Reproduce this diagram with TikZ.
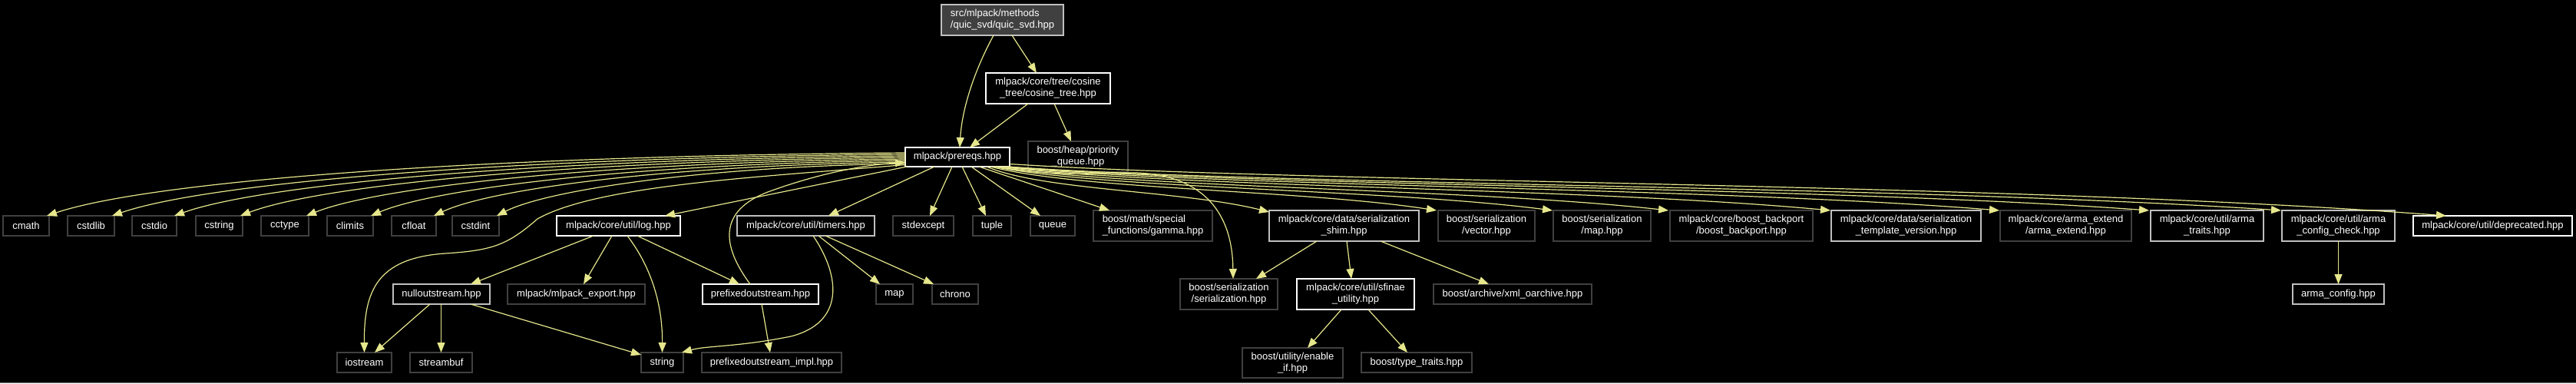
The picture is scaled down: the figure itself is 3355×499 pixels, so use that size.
\documentclass[tikz,border=0pt]{standalone}
\usepackage{fontspec}
\setmainfont{Liberation Sans}
\usetikzlibrary{arrows.meta}
\definecolor{edgec}{RGB}{230,230,140}
\definecolor{lgray}{RGB}{191,191,191}
\definecolor{dgray}{RGB}{64,64,64}
\definecolor{rootfill}{RGB}{64,64,64}
\tikzset{
 nd/.style={rectangle, inner sep=0pt, outer sep=0pt, line width=1.3pt, text=white, fill=black, font=\fontsize{13}{15}\selectfont, align=center},
 wb/.style={nd, draw=white},
 lb/.style={nd, draw=lgray},
 db/.style={nd, draw=dgray},
 ed/.style={draw=edgec, line width=1.2pt, -{Triangle[length=13pt,width=10pt]}},
}
\begin{document}
\begin{tikzpicture}[x=1pt,y=-1pt]
\fill[black] (0,0) rectangle (3355,499);
\useasboundingbox (0,0) rectangle (3355,499);
\draw[gray, line width=1pt] (0,498.5) -- (3355,498.5);
% nodes
\node[lb, fill=rootfill, align=left, minimum width=159pt, minimum height=40pt] (root) at (1305.5,26) {src/mlpack/methods\\/quic\_svd/quic\_svd.hpp};
\node[wb, minimum width=162pt, minimum height=40pt] (cosine) at (1365,115) {mlpack/core/tree/cosine\\\_tree/cosine\_tree.hpp};
\node[wb, minimum width=136pt, minimum height=25pt] (prereqs) at (1247,204.5) {mlpack/prereqs.hpp};
\node[db, minimum width=130pt, minimum height=40pt] (pq) at (1404,204) {boost/heap/priority\\\_queue.hpp};
\node[db, minimum width=60pt, minimum height=26pt] (cmath) at (34,294) {cmath};
\node[db, minimum width=61pt, minimum height=26pt] (cstdlib) at (118.5,294) {cstdlib};
\node[db, minimum width=58pt, minimum height=26pt] (cstdio) at (201,294) {cstdio};
\node[db, minimum width=61pt, minimum height=26pt] (cstring) at (285.5,294) {cstring};
\node[db, minimum width=62pt, minimum height=26pt] (cctype) at (371,294) {cctype};
\node[db, minimum width=60pt, minimum height=26pt] (climits) at (456,294) {climits};
\node[db, minimum width=58pt, minimum height=26pt] (cfloat) at (539,294) {cfloat};
\node[db, minimum width=61pt, minimum height=26pt] (cstdint) at (619.5,294) {cstdint};
\node[wb, minimum width=161pt, minimum height=26pt] (log) at (805.5,294) {mlpack/core/util/log.hpp};
\node[lb, minimum width=179pt, minimum height=26pt] (timers) at (1049.5,294) {mlpack/core/util/timers.hpp};
\node[db, minimum width=79pt, minimum height=26pt] (stdexcept) at (1202.5,294) {stdexcept};
\node[db, minimum width=50pt, minimum height=26pt] (tuple) at (1292,294) {tuple};
\node[db, minimum width=58pt, minimum height=26pt] (queue) at (1371,294) {queue};
\node[db, align=left, minimum width=155pt, minimum height=40pt] (gamma) at (1501.5,294) {boost/math/special\\\_functions/gamma.hpp};
\node[lb, minimum width=195pt, minimum height=40pt] (shim) at (1750.5,294) {mlpack/core/data/serialization\\\_shim.hpp};
\node[db, minimum width=126pt, minimum height=40pt] (vector) at (1936,294) {boost/serialization\\/vector.hpp};
\node[db, minimum width=127pt, minimum height=40pt] (mapser) at (2086.5,294) {boost/serialization\\/map.hpp};
\node[db, minimum width=186pt, minimum height=40pt] (backport) at (2268,294) {mlpack/core/boost\_backport\\/boost\_backport.hpp};
\node[lb, minimum width=195pt, minimum height=40pt] (templ) at (2482.5,294) {mlpack/core/data/serialization\\\_template\_version.hpp};
\node[db, minimum width=171pt, minimum height=40pt] (armaext) at (2690.5,294) {mlpack/core/arma\_extend\\/arma\_extend.hpp};
\node[lb, minimum width=147pt, minimum height=40pt] (armatraits) at (2874.5,294) {mlpack/core/util/arma\\\_traits.hpp};
\node[lb, minimum width=147pt, minimum height=40pt] (armacfgchk) at (3045.5,294) {mlpack/core/util/arma\\\_config\_check.hpp};
\node[wb, minimum width=207pt, minimum height=26pt] (deprecated) at (3246.5,294) {mlpack/core/util/deprecated.hpp};
\node[lb, minimum width=119pt, minimum height=26pt] (armacfg) at (3045.5,383) {arma\_config.hpp};
\node[lb, minimum width=126pt, minimum height=26pt] (nullout) at (575,383) {nulloutstream.hpp};
\node[db, minimum width=179pt, minimum height=26pt] (export) at (750.5,383) {mlpack/mlpack\_export.hpp};
\node[wb, minimum width=151pt, minimum height=26pt] (prefixed) at (990.5,383) {prefixedoutstream.hpp};
\node[db, minimum width=48pt, minimum height=26pt] (map) at (1165,383) {map};
\node[db, minimum width=60pt, minimum height=26pt] (chrono) at (1244,383) {chrono};
\node[db, minimum width=127pt, minimum height=40pt] (serial) at (1600.5,383) {boost/serialization\\/serialization.hpp};
\node[wb, minimum width=153pt, minimum height=40pt] (sfinae) at (1765.5,383) {mlpack/core/util/sfinae\\\_utility.hpp};
\node[db, minimum width=206pt, minimum height=26pt] (xml) at (1970,383) {boost/archive/xml\_oarchive.hpp};
\node[db, minimum width=71pt, minimum height=26pt] (iostream) at (474.5,472) {iostream};
\node[db, minimum width=81pt, minimum height=26pt] (streambuf) at (574.5,472) {streambuf};
\node[db, minimum width=55pt, minimum height=26pt] (string) at (862.5,472) {string};
\node[db, minimum width=182pt, minimum height=26pt] (pimpl) at (1005,472) {prefixedoutstream\_impl.hpp};
\node[db, minimum width=131pt, minimum height=39pt] (enableif) at (1683.5,472.5) {boost/utility/enable\\\_if.hpp};
\node[db, minimum width=144pt, minimum height=26pt] (typetraits) at (1845,472) {boost/type\_traits.hpp};
% top edges
\draw[ed] ([xshift=-11.5pt]root.south) .. controls (1270,90) and (1253,140) .. ([xshift=3pt]prereqs.north);
\draw[ed] ([xshift=12.5pt]root.south) -- ([xshift=-15pt]cosine.north);
\draw[ed] ([xshift=-26pt]cosine.south) -- ([xshift=16pt]prereqs.north);
\draw[ed] ([xshift=8pt]cosine.south) -- ([xshift=-9pt]pq.north);
% left fan
\draw[ed] ([yshift=5.5pt]prereqs.west) .. controls (620,203) and (195,236) .. ([xshift=-3pt]cmath.north east);
\draw[ed] ([yshift=3.5pt]prereqs.west) .. controls (662,205) and (270,238) .. ([xshift=-3pt]cstdlib.north east);
\draw[ed] ([yshift=1.5pt]prereqs.west) .. controls (703,207) and (341,240) .. ([xshift=-3pt]cstdio.north east);
\draw[ed] ([yshift=-0.5pt]prereqs.west) .. controls (746,209) and (417,241) .. ([xshift=-3pt]cstring.north east);
\draw[ed] ([yshift=-2.5pt]prereqs.west) .. controls (789,211) and (493,243) .. ([xshift=-3pt]cctype.north east);
\draw[ed] ([yshift=-4.5pt]prereqs.west) .. controls (831,213) and (567,245) .. ([xshift=-3pt]climits.north east);
\draw[ed] ([yshift=-6.5pt]prereqs.west) .. controls (872,215) and (639,246) .. ([xshift=-3pt]cfloat.north east);
\draw[ed] ([yshift=-8.5pt]prereqs.west) .. controls (913,217) and (711,248) .. ([xshift=-3pt]cstdint.north east);
\draw[ed] ([yshift=-10pt]prereqs.west) .. controls (1000,230) and (780,240) .. (700,285) .. controls (660,320) and (640,326) .. (580,330) .. controls (490,336) and (474,380) .. (iostream.north);
\draw[ed] ([xshift=2pt]prereqs.south west) -- ([xshift=60.5pt]log.north);
\draw[ed] ([xshift=-30pt]prereqs.south) -- ([xshift=29.5pt]timers.north);
\draw[ed] ([xshift=-7pt]prereqs.south) -- ([xshift=8.5pt]stdexcept.north);
\draw[ed] ([xshift=6pt]prereqs.south) -- ([xshift=-8pt]tuple.north);
\draw[ed] ([xshift=18pt]prereqs.south) -- ([xshift=-16pt]queue.north);
\draw[ed] ([xshift=28pt]prereqs.south) -- ([xshift=-56.5pt]gamma.north);
% right bundle
\draw[ed] ([xshift=38pt]prereqs.south) .. controls (1358,248) and (1540,248) .. ([yshift=-2pt]shim.north west);
\draw[ed] ([xshift=43pt]prereqs.south) .. controls (1407,247) and (1695,247) .. ([xshift=-2pt]vector.north west);
\draw[ed] ([xshift=47pt]prereqs.south) .. controls (1440,246) and (1803,246) .. ([xshift=-1pt]mapser.north west);
\draw[ed] ([xshift=51pt]prereqs.south) .. controls (1473,245) and (1911,245) .. ([xshift=-2pt]backport.north west);
\draw[ed] ([xshift=55pt]prereqs.south) .. controls (1518,244) and (2060,244) .. ([xshift=-1pt]templ.north west);
\draw[ed] ([xshift=59pt]prereqs.south) .. controls (1565,243) and (2215,243) .. ([xshift=-1pt]armaext.north west);
\draw[ed] ([xshift=63pt]prereqs.south) .. controls (1608,242) and (2352,242) .. ([xshift=-2pt]armatraits.north west);
\draw[ed] ([xshift=66pt]prereqs.south) .. controls (1645,241) and (2472,241) .. ([xshift=-1pt]armacfgchk.north west);
\draw[ed] ([yshift=-9pt]prereqs.east) .. controls (1689,238) and (2625,238) .. ([xshift=-60.5pt]deprecated.north);
\draw[ed] ([xshift=49pt]prereqs.south) .. controls (1380,232) and (1440,224) .. (1480,225) .. controls (1560,228) and (1605,270) .. ([xshift=5.5pt]serial.north);
% back edge
\draw[ed] ([xshift=-13.5pt]prefixed.north) .. controls (940,320) and (935,275) .. (1000,250) .. controls (1060,228) and (1120,215) .. ([yshift=-7pt]prereqs.west);
% timers
\draw[ed] ([xshift=9.5pt]timers.south) .. controls (1095,360) and (1100,420) .. (1030,438) .. controls (960,452) and (920,450) .. ([xshift=25.5pt]string.north);
\draw[ed] ([xshift=16.5pt]timers.south) -- ([xshift=-19pt]map.north);
\draw[ed] ([xshift=25.5pt]timers.south) -- ([xshift=-28pt]chrono.north);
% log
\draw[ed] ([xshift=-32.5pt]log.south) -- ([xshift=38pt]nullout.north);
\draw[ed] ([xshift=-8.5pt]log.south) -- ([xshift=9.5pt]export.north);
\draw[ed] ([xshift=11.5pt]log.south) .. controls (850,350) and (863,400) .. (string.north);
\draw[ed] ([xshift=24.5pt]log.south) -- ([xshift=-27.5pt]prefixed.north);
% nulloutstream
\draw[ed] ([xshift=-15pt]nullout.south) -- ([xshift=13.5pt]iostream.north);
\draw[ed] ([xshift=-0.5pt]nullout.south) -- (streambuf.north);
\draw[ed] ([xshift=38pt]nullout.south) -- ([yshift=-3pt]string.north west);
\draw[ed] ([xshift=1.5pt]prefixed.south) -- ([xshift=-2pt]pimpl.north);
% shim
\draw[ed] ([xshift=-35.5pt]shim.south) -- ([xshift=35.5pt]serial.north);
\draw[ed] ([xshift=3.5pt]shim.south) -- ([xshift=-5.5pt]sfinae.north);
\draw[ed] ([xshift=47.5pt]shim.south) -- ([xshift=-31pt]xml.north);
\draw[ed] ([xshift=-18.5pt]sfinae.south) -- ([xshift=19.5pt]enableif.north);
\draw[ed] ([xshift=16.5pt]sfinae.south) -- ([xshift=-12pt]typetraits.north);
\draw[ed] (armacfgchk.south) -- (armacfg.north);
\end{tikzpicture}
\end{document}
